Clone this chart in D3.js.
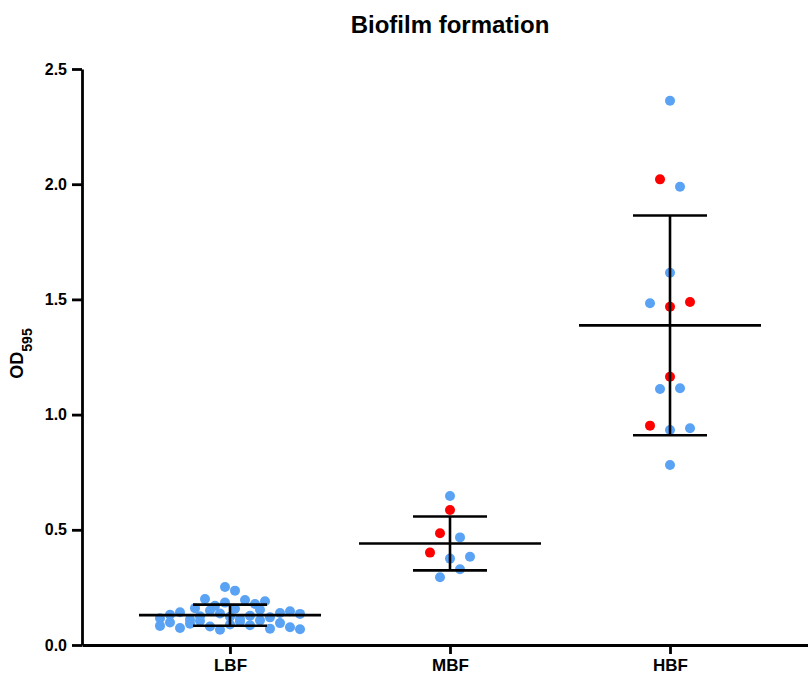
<!DOCTYPE html>
<html>
<head>
<meta charset="utf-8">
<script src="https://cdn.jsdelivr.net/npm/d3@7"></script>
<style>
  body { margin: 0; background: #fff; }
  .content { width: 808px; height: 675px; }
  text { font-family: "Liberation Sans", Arial, sans-serif; font-weight: bold; fill: #000; }
</style>
</head>
<body>
<div class="content"></div>
<script>
// groups on the x axis
var categories = ['LBF', 'MBF', 'HBF'];

// OD595 readings per group (type 0 = blue isolates, 1 = red isolates)
var lbfValues = [0.116, 0.083, 0.160, 0.131, 0.098, 0.200, 0.142, 0.074, 0.110, 0.170,
  0.092, 0.125, 0.184, 0.150, 0.104, 0.252, 0.137, 0.080, 0.157, 0.123,
  0.195, 0.066, 0.113, 0.089, 0.178, 0.127, 0.101, 0.153, 0.236, 0.120,
  0.086, 0.190, 0.139, 0.107, 0.146, 0.071, 0.135, 0.095, 0.077, 0.068];
var lbfTypes = lbfValues.map(function() { return 0; });

var mbfValues = [0.647, 0.586, 0.485, 0.467, 0.401, 0.375, 0.383, 0.294, 0.329];
var mbfTypes  = [0, 1, 1, 0, 1, 0, 0, 0, 0];

var hbfValues = [2.362, 2.021, 1.989, 1.616, 1.483, 1.468, 1.489, 1.164, 1.111, 1.114, 0.952, 0.933, 0.941, 0.781];
var hbfTypes  = [0, 1, 0, 0, 0, 1, 1, 1, 0, 0, 1, 0, 0, 0];

var yTicks = [0, 0.5, 1.0, 1.5, 2.0, 2.5];

var groups = [
  {name: categories[0], values: lbfValues, types: lbfTypes},
  {name: categories[1], values: mbfValues, types: mbfTypes},
  {name: categories[2], values: hbfValues, types: hbfTypes}
];

var svg = d3.select('.content')
  .append('svg')
  .attr('width', 808)
  .attr('height', 675);

var x = d3.scalePoint()
  .domain(categories)
  .range([82, 818])
  .padding(0.6727);

var y = d3.scaleLinear()
  .domain([0, 2.5])
  .range([645, 69]);

var color = d3.scaleOrdinal().domain([0, 1]).range(['#5aa2f4', '#ff0000']);

var r = 5,
  rowHeight = 10,
  maxSpacing = 20,
  maxWidth = 140;

// GraphPad-like scatter: close values share a row, rows are centred,
// one spacing per column so the widest row fits
function swarm(g) {
  var pts = g.values.map(function(v, i) {
    return {name: g.name, value: v, type: g.types[i], idx: i, dx: 0};
  });
  var sorted = pts.slice().sort(function(a, b) { return b.value - a.value; });
  var rows = [], row = null;
  sorted.forEach(function(p) {
    if (!row || y(p.value) - y(row[0].value) >= rowHeight) {
      row = [p];
      rows.push(row);
    } else {
      row.push(p);
    }
  });
  var longest = d3.max(rows, function(rw) { return rw.length; });
  var s = longest > 1 ? Math.min(maxSpacing, maxWidth / (longest - 1)) : 0;
  rows.forEach(function(rw) {
    rw.sort(function(a, b) { return a.idx - b.idx; });
    var n = rw.length;
    rw.forEach(function(p, i) { p.dx = (i - (n - 1) / 2) * s; });
  });
  return pts;
}

var points = [];
groups.forEach(function(g) { points = points.concat(swarm(g)); });

// dots
svg.append('g')
  .attr('class', 'dots')
  .selectAll('circle')
  .data(points)
  .enter()
  .append('circle')
  .attr('cx', function(d) { return x(d.name) + d.dx; })
  .attr('cy', function(d) { return y(d.value); })
  .attr('r', r)
  .attr('fill', function(d) { return color(d.type); });

// mean and SD
var stats = groups.map(function(g) {
  return {name: g.name, mean: d3.mean(g.values), sd: d3.deviation(g.values)};
});

var meanHalf = 91, capHalf = 37;
var errG = svg.append('g')
  .attr('class', 'errors')
  .attr('stroke', '#000')
  .attr('stroke-width', 2.6);

errG.selectAll('.mean')
  .data(stats)
  .enter()
  .append('line')
  .attr('class', 'mean')
  .attr('x1', function(d) { return x(d.name) - meanHalf; })
  .attr('x2', function(d) { return x(d.name) + meanHalf; })
  .attr('y1', function(d) { return y(d.mean); })
  .attr('y2', function(d) { return y(d.mean); });

errG.selectAll('.sd')
  .data(stats)
  .enter()
  .append('line')
  .attr('class', 'sd')
  .attr('x1', function(d) { return x(d.name); })
  .attr('x2', function(d) { return x(d.name); })
  .attr('y1', function(d) { return y(d.mean + d.sd); })
  .attr('y2', function(d) { return y(d.mean - d.sd); });

[1, -1].forEach(function(sign) {
  errG.selectAll('.cap' + sign)
    .data(stats)
    .enter()
    .append('line')
    .attr('class', 'cap' + sign)
    .attr('x1', function(d) { return x(d.name) - capHalf; })
    .attr('x2', function(d) { return x(d.name) + capHalf; })
    .attr('y1', function(d) { return y(d.mean + sign * d.sd); })
    .attr('y2', function(d) { return y(d.mean + sign * d.sd); });
});

// axes
var axis_y = svg.append('g')
  .attr('class', 'axis axis--y')
  .attr('transform', 'translate(82,0)')
  .call(d3.axisLeft(y).tickValues(yTicks).tickFormat(d3.format('.1f'))
    .tickSize(10).tickSizeOuter(0).tickPadding(5));

var axis_x = svg.append('g')
  .attr('class', 'axis axis--x')
  .attr('transform', 'translate(0,645)')
  .call(d3.axisBottom(x).tickSize(9).tickSizeOuter(0).tickPadding(5));

[axis_x, axis_y].forEach(function(a) {
  a.selectAll('path').attr('stroke', '#000').attr('stroke-width', 2.8);
  a.selectAll('line').attr('stroke', '#000').attr('stroke-width', 2.8);
});
axis_y.selectAll('text').style('font-size', '16px').style('font-family', null);
axis_x.selectAll('text').style('font-size', '17px').style('font-family', null);

// title
svg.append('text')
  .attr('x', 450)
  .attr('y', 33)
  .attr('text-anchor', 'middle')
  .style('font-size', '24px')
  .text('Biofilm formation');

// y axis label with subscript
var yLabel = svg.append('text')
  .attr('transform', 'translate(22.7,353.5) rotate(-90)')
  .attr('text-anchor', 'middle')
  .style('font-size', '18px');
yLabel.append('tspan').text('OD');
yLabel.append('tspan').attr('dy', 9).style('font-size', '14px').text('595');
</script>
</body>
</html>
